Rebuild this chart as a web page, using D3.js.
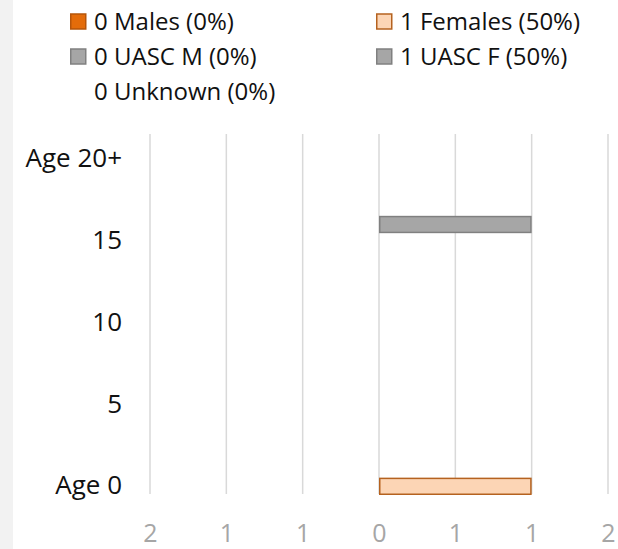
<!DOCTYPE html>
<html><head><meta charset="utf-8">
<script src="https://cdn.jsdelivr.net/npm/d3@7/dist/d3.min.js"></script>
<style>
html,body{margin:0;padding:0;background:#fff;}
svg{display:block;}
text{font-family:"Open Sans","Noto Sans",sans-serif;}
</style></head>
<body>
<svg id="chart" width="618" height="549"></svg>
<script>
// ---- data ----
const ages = d3.range(0, 22);                 // age rows (0 .. 21)
const ageLabels = {0: "Age 0", 5: "5", 10: "10", 15: "15", 20: "Age 20+"};
const males   = ages.map(() => 0);
const females = ages.map(a => a === 0 ? 1 : 0);
const uascM   = ages.map(() => 0);
const uascF   = ages.map(a => a === 16 ? 1 : 0);
const unknown = ages.map(() => 0);
const xTicks = [-1.5, -1, -0.5, 0, 0.5, 1, 1.5];
const seriesNames = ["Males", "Females", "UASC M", "UASC F", "Unknown"];

// ---- layout ----
const FONT = '"Open Sans","Noto Sans",sans-serif';
const svg = d3.select("#chart");
svg.append("rect").attr("x", 0).attr("y", 0).attr("width", 13).attr("height", 549).attr("fill", "#f2f2f2");

const x = d3.scaleLinear().domain([-1.5, 1.5]).range([150, 608]);
const y = d3.scaleBand().domain(ages).range([494, 134]).paddingInner(0).paddingOuter(0);

// gridlines
svg.append("g").selectAll("line").data(xTicks).join("line")
  .attr("x1", d => x(d)).attr("x2", d => x(d))
  .attr("y1", 134).attr("y2", 494)
  .attr("stroke", "#d9d9d9").attr("stroke-width", 1.5);

// x axis labels
const xAxis = d3.axisBottom(x).tickValues(xTicks).tickSize(0).tickPadding(0)
  .tickFormat(d => { const a = Math.abs(d); return String(a % 1 === 0.5 ? Math.ceil(a) : Math.round(a)); });
const gx = svg.append("g").attr("transform", "translate(0,542)").call(xAxis);
gx.select(".domain").remove();
gx.selectAll("text").attr("fill", "#a6a6a6").attr("font-size", 25).attr("dy", 0).attr("y", 0)
  .style("font-family", FONT);

// y axis labels
const yAxis = d3.axisLeft(y).tickValues(Object.keys(ageLabels).map(Number)).tickSize(0).tickPadding(0)
  .tickFormat(d => ageLabels[d]);
const gy = svg.append("g").attr("transform", "translate(122,0)").call(yAxis);
gy.select(".domain").remove();
gy.selectAll("text").attr("fill", "#111").attr("font-size", 26).attr("dy", 8.5)
  .style("font-family", FONT);

// bars
const styles = {
  "Males":   {fill: "#e46c0a", stroke: "#b5550a"},
  "Females": {fill: "#fcd5b5", stroke: "#b5621f"},
  "UASC M":  {fill: "#a6a6a6", stroke: "#808080"},
  "UASC F":  {fill: "#a6a6a6", stroke: "#808080"},
  "Unknown": {fill: "none", stroke: "none"}
};
const dataBy = {"Males": males, "Females": females, "UASC M": uascM, "UASC F": uascF, "Unknown": unknown};
const sign = {"Males": -1, "Females": 1, "UASC M": -1, "UASC F": 1, "Unknown": 1};

const barsG = svg.append("g");
const posStack = ages.map(() => 0), negStack = ages.map(() => 0);
seriesNames.forEach(name => {
  const vals = dataBy[name];
  ages.forEach((a, i) => {
    const v = vals[i];
    if (!v) return;
    const s = sign[name];
    const start = s > 0 ? posStack[i] : -negStack[i];
    const end = start + s * v;
    if (s > 0) posStack[i] += v; else negStack[i] += v;
    barsG.append("rect")
      .attr("x", x(Math.min(start, end)) + 0.75)
      .attr("width", Math.abs(x(end) - x(start)) - 1.5)
      .attr("y", y(a) + 0.75)
      .attr("height", y.bandwidth() - 0.5)
      .attr("fill", styles[name].fill)
      .attr("stroke", styles[name].stroke)
      .attr("stroke-width", 1.5);
  });
});

// legend
const total = seriesNames.reduce((s, n) => s + d3.sum(dataBy[n]), 0);
const legendPos = {
  "Males":   [70, 30], "Females": [376, 30],
  "UASC M":  [70, 65], "UASC F":  [376, 65],
  "Unknown": [70, 100]
};
const lg = svg.append("g");
seriesNames.forEach(name => {
  const cnt = d3.sum(dataBy[name]);
  const pct = total ? Math.round(cnt / total * 100) : 0;
  const [lx, ly] = legendPos[name];
  if (name !== "Unknown") {
    lg.append("rect").attr("x", lx + 0.75).attr("y", ly - 16).attr("width", 15).attr("height", 15)
      .attr("fill", styles[name].fill).attr("stroke", styles[name].stroke).attr("stroke-width", 1.5);
  }
  lg.append("text").attr("x", lx + 24).attr("y", ly)
    .attr("font-size", 24).attr("fill", "#111")
    .text(`${cnt} ${name} (${pct}%)`);
});
</script>
</body></html>
